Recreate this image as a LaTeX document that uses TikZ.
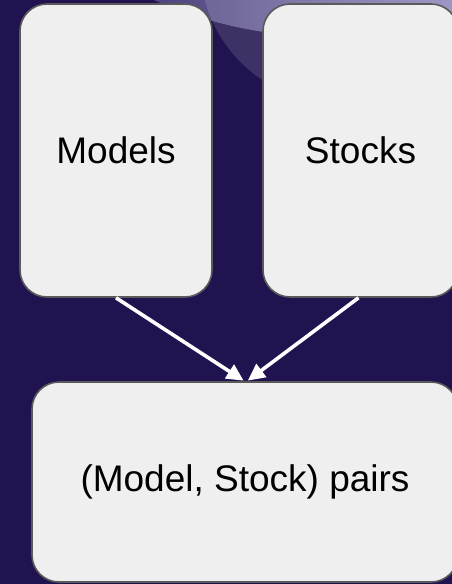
\documentclass[tikz,border=0pt]{standalone}
\usepackage{fontspec}
\setmainfont{Liberation Sans}
\usetikzlibrary{arrows.meta}
\definecolor{navy}{RGB}{33,19,79}
\definecolor{boxfill}{RGB}{239,239,239}
\definecolor{boxline}{RGB}{90,90,90}
\definecolor{glowleft}{RGB}{79,67,127}
\definecolor{glowright}{RGB}{142,136,187}
\tikzset{
  card/.style={draw=boxline, line width=1.6pt, fill=boxfill, rounded corners=27pt,
    inner sep=0pt, font=\fontsize{37}{44}\selectfont, text=black},
  flow/.style={draw=white, line width=3.6pt, -{Triangle[length=17pt,width=16pt]}, shorten >=1pt}
}
\begin{document}
\begin{tikzpicture}[x=1pt, y=-1pt]
  % backdrop
  \fill[navy] (0,0) rectangle (452,584);
  \useasboundingbox (0,0) rectangle (452,584);
  % decorative overlapping discs in the top right
  \begin{scope}
    \clip (330,-400) circle (437);
    \shade[left color=glowleft, right color=glowright] (150,-60) rectangle (452,120);
  \end{scope}
  \fill[white, fill opacity=0.13] (339,-36) circle (139);
  % cards
  \node[card, minimum width=192pt, minimum height=293pt] (models) at (116,150.5) {Models};
  \node[card, minimum width=195pt, minimum height=293pt] (stocks) at (360.5,150.5) {Stocks};
  \node[card, minimum width=426pt, minimum height=200pt] (pairs) at (245,482) {(Model, Stock) pairs};
  % connectors
  \draw[flow] (models.south) -- ([xshift=-0.5pt]pairs.north);
  \draw[flow] ([xshift=-2pt]stocks.south) -- ([xshift=2pt]pairs.north);
\end{tikzpicture}
\end{document}
